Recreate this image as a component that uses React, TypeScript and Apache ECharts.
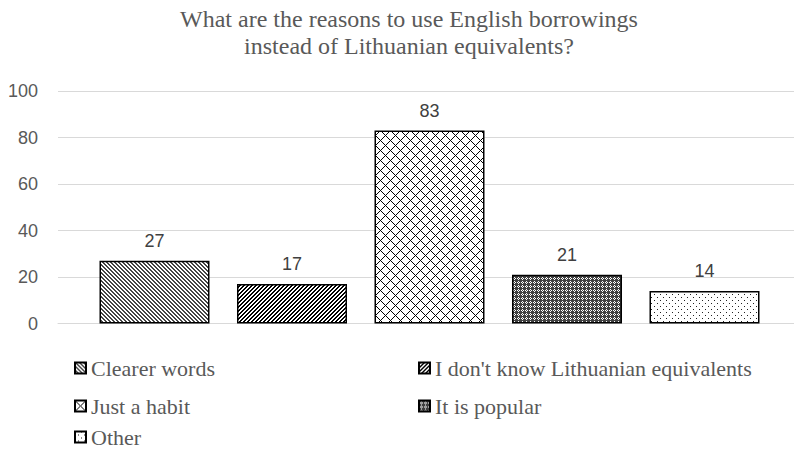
import React, { useEffect, useRef } from "react";
import * as echarts from "echarts";

const titleLines = [
  "What are the reasons to use English borrowings",
  "instead of Lithuanian equivalents?",
];
const categories = ["Reasons"];
const seriesNames = [
  "Clearer words",
  "I don't know Lithuanian equivalents",
  "Just a habit",
  "It is popular",
  "Other",
];
const seriesValues = [27, 17, 83, 21, 14];
const yMin = 0;
const yMax = 100;
const yInterval = 20;

// layout (style only)
const legendSlots = [
  { left: 74, cy: 367 },
  { left: 418, cy: 367 },
  { left: 74, cy: 405 },
  { left: 418, cy: 405 },
  { left: 74, cy: 436 },
];

function makePattern(w: number, h: number, color: string, on: (x: number, y: number) => boolean) {
  const c = document.createElement("canvas");
  c.width = w;
  c.height = h;
  const ctx = c.getContext("2d")!;
  ctx.fillStyle = "#ffffff";
  ctx.fillRect(0, 0, w, h);
  ctx.fillStyle = color;
  for (let y = 0; y < h; y++) {
    for (let x = 0; x < w; x++) {
      if (on(x, y)) ctx.fillRect(x, y, 1, 1);
    }
  }
  return c;
}

export default function App() {
  const ref = useRef<HTMLDivElement>(null);
  useEffect(() => {
    if (!ref.current) return;
    const chart = echarts.init(ref.current, undefined, { renderer: "svg" });
    const patterns = [
      makePattern(8, 8, "#444444", (x, y) => (x - y + 8) % 4 < 2),
      makePattern(8, 8, "#000000", (x, y) => (x + y) % 4 < 2),
      makePattern(10, 10, "#000000", (x, y) => (x + y) % 10 === 0 || (x - y + 10) % 10 === 0),
      makePattern(4, 4, "#404040", (x, y) => x === 0 || y === 0 || (x + y) % 2 === 0),
      makePattern(6, 6, "#222222", (x, y) => (x === 0 && y === 0) || (x === 3 && y === 3)),
    ];
    const serif = "'Liberation Serif', 'Times New Roman', serif";
    const sans = "'Liberation Sans', Arial, sans-serif";
    const option: any = {
      animation: false,
      backgroundColor: "#ffffff",
      graphic: titleLines.map((t, i) => ({
        type: "text",
        x: 409,
        y: 19 + i * 27,
        style: {
          text: t,
          fill: "#595959",
          font: `24px ${serif}`,
          textAlign: "center",
          textVerticalAlign: "middle",
        },
      })),
      legend: seriesNames.map((n, i) => ({
        data: [n],
        left: legendSlots[i].left,
        top: legendSlots[i].cy - 10,
        width: 370,
        padding: 0,
        itemWidth: 11,
        itemHeight: 11,
        icon: "rect",
        selectedMode: false,
        textStyle: {
          fontFamily: serif,
          fontSize: 22,
          color: "#595959",
          lineHeight: 20,
        },
      })),
      grid: [
        { left: 58, right: 0, top: 91, bottom: 126.5, containLabel: false },
        { left: 65, right: 0, top: 91, bottom: 126.5, containLabel: false },
      ],
      xAxis: [
        {
          type: "category",
          gridIndex: 0,
          data: categories,
          axisLine: { show: true, lineStyle: { color: "#d9d9d9", width: 1 } },
          axisTick: { show: false },
          axisLabel: { show: false },
        },
        {
          type: "category",
          gridIndex: 1,
          data: categories,
          axisLine: { show: false },
          axisTick: { show: false },
          axisLabel: { show: false },
        },
      ],
      yAxis: [
        {
          type: "value",
          gridIndex: 0,
          min: yMin,
          max: yMax,
          interval: yInterval,
          axisLine: { show: false },
          axisTick: { show: false },
          splitLine: { lineStyle: { color: "#d9d9d9", width: 1 } },
          axisLabel: {
            fontFamily: sans,
            fontSize: 18,
            color: "#595959",
            margin: 20,
          },
        },
        {
          type: "value",
          gridIndex: 1,
          min: yMin,
          max: yMax,
          interval: yInterval,
          axisLine: { show: false },
          axisTick: { show: false },
          splitLine: { show: false },
          axisLabel: { show: false },
        },
      ],
      series: seriesNames.map((n, i) => ({
        type: "bar",
        name: n,
        xAxisIndex: 1,
        yAxisIndex: 1,
        data: [seriesValues[i]],
        barWidth: 110,
        barGap: "25%",
        itemStyle: {
          color: { image: patterns[i], repeat: "repeat" },
          borderColor: "#000000",
          borderWidth: 1.5,
        },
        label: {
          show: true,
          position: "top",
          distance: 11,
          fontFamily: sans,
          fontSize: 18,
          color: "#404040",
        },
      })),
    };
    chart.setOption(option);
    return () => chart.dispose();
  }, []);
  return (
    <div
      ref={ref}
      style={{ position: "absolute", left: 0, top: 0, width: 794, height: 450, overflow: "hidden" }}
    />
  );
}
